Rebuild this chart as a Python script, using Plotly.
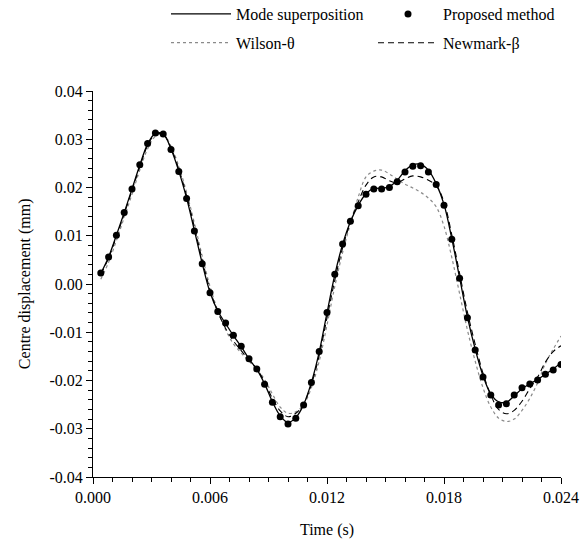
import plotly.graph_objects as go

# Time samples (s)
time_s = [round(0.0004 * k, 4) for k in range(1, 61)]

proposed = [0.0023, 0.0056, 0.0101, 0.0148, 0.0197, 0.0247, 0.0291, 0.0313, 0.0311, 0.0279,
            0.0233, 0.0177, 0.0110, 0.0042, -0.0018, -0.0057, -0.0081, -0.0106, -0.0129, -0.0155,
            -0.0176, -0.0208, -0.0245, -0.0275, -0.0290, -0.0278, -0.0251, -0.0204, -0.0140, -0.0059,
            0.0020, 0.0083, 0.0130, 0.0162, 0.0186, 0.0197, 0.0197, 0.0200, 0.0212, 0.0232,
            0.0244, 0.0245, 0.0232, 0.0206, 0.0163, 0.0093, 0.0012, -0.0070, -0.0137, -0.0193,
            -0.0230, -0.0251, -0.0248, -0.0230, -0.0215, -0.0207, -0.0199, -0.0187, -0.0178, -0.0167]

mode_superposition = [0.0022, 0.0056, 0.0101, 0.0148, 0.0197, 0.0246, 0.0290, 0.0312, 0.0311, 0.0280,
                      0.0234, 0.0178, 0.0111, 0.0043, -0.0017, -0.0056, -0.0082, -0.0107, -0.0130, -0.0155,
                      -0.0177, -0.0207, -0.0244, -0.0273, -0.0287, -0.0277, -0.0250, -0.0204, -0.0141, -0.0060,
                      0.0019, 0.0082, 0.0129, 0.0163, 0.0187, 0.0198, 0.0198, 0.0202, 0.0215, 0.0235,
                      0.0247, 0.0248, 0.0236, 0.0208, 0.0165, 0.0094, 0.0013, -0.0068, -0.0135, -0.0190,
                      -0.0228, -0.0244, -0.0245, -0.0232, -0.0217, -0.0207, -0.0198, -0.0187, -0.0176, -0.0163]

newmark = [0.0020, 0.0054, 0.0098, 0.0145, 0.0194, 0.0243, 0.0287, 0.0310, 0.0310, 0.0282,
           0.0238, 0.0183, 0.0118, 0.0050, -0.0012, -0.0058, -0.0092, -0.0118, -0.0138, -0.0158,
           -0.0176, -0.0203, -0.0237, -0.0263, -0.0275, -0.0268, -0.0248, -0.0208, -0.0148, -0.0070,
           0.0008, 0.0075, 0.0128, 0.0170, 0.0205, 0.0222, 0.0222, 0.0214, 0.0210, 0.0218,
           0.0224, 0.0222, 0.0215, 0.0204, 0.0170, 0.0102, 0.0022, -0.0058, -0.0125, -0.0185,
           -0.0230, -0.0260, -0.0269, -0.0262, -0.0243, -0.0217, -0.0193, -0.0162, -0.0140, -0.0128]

wilson = [0.0010, 0.0045, 0.0090, 0.0138, 0.0186, 0.0236, 0.0280, 0.0306, 0.0310, 0.0286,
          0.0244, 0.0190, 0.0126, 0.0058, -0.0005, -0.0055, -0.0095, -0.0124, -0.0143, -0.0160,
          -0.0176, -0.0198, -0.0228, -0.0255, -0.0268, -0.0265, -0.0250, -0.0215, -0.0160, -0.0085,
          -0.0005, 0.0065, 0.0125, 0.0180, 0.0222, 0.0234, 0.0236, 0.0228, 0.0217, 0.0207,
          0.0199, 0.0190, 0.0178, 0.0160, 0.0120, 0.0055, -0.0020, -0.0095, -0.0160, -0.0215,
          -0.0255, -0.0278, -0.0285, -0.0280, -0.0262, -0.0237, -0.0205, -0.0165, -0.0135, -0.0108]

x_tick_vals = [0.0, 0.006, 0.012, 0.018, 0.024]
x_tick_text = ["0.000", "0.006", "0.012", "0.018", "0.024"]
y_tick_vals = [-0.04, -0.03, -0.02, -0.01, 0.0, 0.01, 0.02, 0.03, 0.04]
y_tick_text = ["-0.04", "-0.03", "-0.02", "-0.01", "0.00", "0.01", "0.02", "0.03", "0.04"]

x_title = "Time (s)"
y_title = "Centre displacement (mm)"

FONT = "Liberation Serif"

fig = go.Figure()
fig.add_trace(go.Scatter(x=time_s, y=wilson, mode="lines", name="Wilson-θ",
                         line=dict(color="#8a8a8a", width=1.2, dash="dot", shape="spline"),
                         legend="legend", legendrank=2, legendgroup="w"))
fig.add_trace(go.Scatter(x=time_s, y=newmark, mode="lines", name="Newmark-β",
                         line=dict(color="black", width=1.1, dash="6px,4px", shape="spline"),
                         legend="legend2", legendrank=2, legendgroup="n"))
fig.add_trace(go.Scatter(x=time_s, y=mode_superposition, mode="lines", name="Mode superposition",
                         line=dict(color="black", width=1.3, shape="spline"),
                         legend="legend", legendrank=1, legendgroup="m"))
fig.add_trace(go.Scatter(x=time_s, y=proposed, mode="markers", name="Proposed method",
                         marker=dict(color="black", size=7),
                         legend="legend2", legendrank=1, legendgroup="p"))

legend_common = dict(xref="container", yref="paper", xanchor="left", yanchor="top",
                     orientation="v", font=dict(family=FONT, size=16, color="black"),
                     bgcolor="rgba(0,0,0,0)", itemwidth=60, tracegroupgap=5,
                     traceorder="grouped")

legend_top = 1 + (91 + 3) / 386

fig.update_layout(
    width=584, height=550,
    margin=dict(l=93, r=23, t=91, b=73, autoexpand=False),
    paper_bgcolor="white", plot_bgcolor="white",
    font=dict(family=FONT, size=16, color="black"),
    showlegend=True,
    legend=dict(x=166 / 584, y=legend_top, **legend_common),
    legend2=dict(x=373 / 584, y=legend_top, **legend_common),
    xaxis=dict(range=[0, 0.024], tickmode="array", tickvals=x_tick_vals, ticktext=x_tick_text,
               showgrid=False, zeroline=False, showline=True, linecolor="black", linewidth=1,
               ticks="outside", ticklen=6, tickcolor="black", tickwidth=1,
               minor=dict(tick0=0, dtick=0.001, ticks="outside", ticklen=4,
                          tickcolor="black", showgrid=False),
               title=dict(text=x_title, font=dict(family=FONT, size=16), standoff=18),
               tickfont=dict(family=FONT, size=16, color="black")),
    yaxis=dict(range=[-0.04, 0.04], tickmode="array", tickvals=y_tick_vals, ticktext=y_tick_text,
               showgrid=False, zeroline=False, showline=True, linecolor="black", linewidth=1,
               ticks="outside", ticklen=6, tickcolor="black", tickwidth=1,
               minor=dict(tick0=0, dtick=0.002, ticks="outside", ticklen=4,
                          tickcolor="black", showgrid=False),
               tickfont=dict(family=FONT, size=16, color="black")),
    annotations=[dict(text=y_title, xref="paper", yref="paper", x=-0.145, y=0.5,
                      xanchor="center", yanchor="middle", textangle=-90, showarrow=False,
                      font=dict(family=FONT, size=16, color="black"))],
)

fig.write_html("out.html")
